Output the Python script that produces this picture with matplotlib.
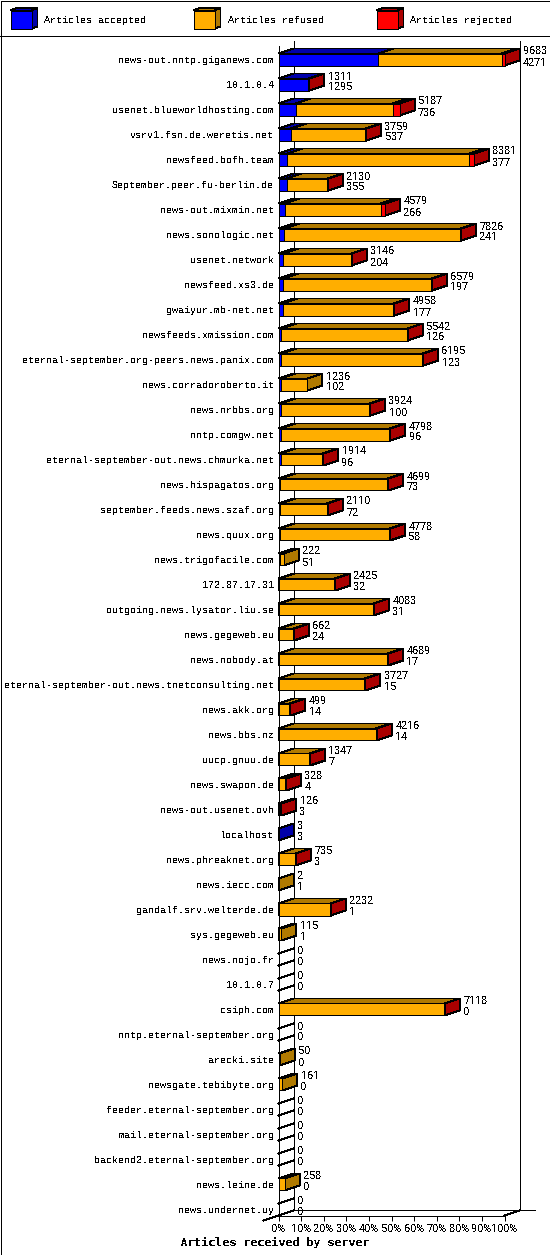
"""Articles received by server: stacked pseudo-3D bars in the style of a gd chart."""

import matplotlib
matplotlib.use("Agg")
import matplotlib.pyplot as plt
from matplotlib.patches import Polygon, Rectangle

W, H = 550, 1255

servers = [
    "news-out.nntp.giganews.com", "10.1.0.4", "usenet.blueworldhosting.com",
    "vsrv1.fsn.de.weretis.net", "newsfeed.bofh.team", "September.peer.fu-berlin.de",
    "news-out.mixmin.net", "news.sonologic.net", "usenet.network", "newsfeed.xs3.de",
    "gwaiyur.mb-net.net", "newsfeeds.xmission.com", "eternal-september.org-peers.news.panix.com",
    "news.corradoroberto.it", "news.nrbbs.org", "nntp.comgw.net",
    "eternal-september-out.news.chmurka.net", "news.hispagatos.org", "september.feeds.news.szaf.org",
    "news.quux.org", "news.trigofacile.com", "172.87.17.31", "outgoing.news.lysator.liu.se",
    "news.gegeweb.eu", "news.nobody.at", "eternal-september-out.news.tnetconsulting.net",
    "news.akk.org", "news.bbs.nz", "uucp.gnuu.de", "news.swapon.de", "news-out.usenet.ovh",
    "localhost", "news.phreaknet.org", "news.iecc.com", "gandalf.srv.welterde.de",
    "sys.gegeweb.eu", "news.nojo.fr", "10.1.0.7", "csiph.com", "nntp.eternal-september.org",
    "arecki.site", "newsgate.tebibyte.org", "feeder.eternal-september.org",
    "mail.eternal-september.org", "backend2.eternal-september.org", "news.leine.de",
    "news.undernet.uy",
]
totals = [
    9683, 1311, 5187, 3759, 8381, 2130, 4579, 7826, 3146, 6579, 4958, 5542, 6195, 1236, 3924, 4798,
    1914, 4699, 2110, 4778, 222, 2425, 4083, 662, 4689, 3727, 499, 4216, 1347, 328, 126, 3, 735, 2,
    2232, 115, 0, 0, 7118, 0, 50, 161, 0, 0, 0, 258, 0,
]
accepted = [
    4271, 1295, 736, 537, 377, 355, 266, 241, 204, 197, 177, 126, 123, 102, 100, 96,
    96, 73, 72, 58, 51, 32, 31, 24, 17, 15, 14, 14, 7, 4, 3, 3, 3, 1,
    1, 1, 0, 0, 0, 0, 0, 0, 0, 0, 0, 0, 0,
]
# rejected is estimated from the width of the red front / colour of the side face
rejected = [
    107, 6, 300, 15, 215, 20, 190, 45, 15, 40, 15, 15, 20, 0, 12, 20,
    20, 25, 35, 15, 0, 8, 20, 8, 30, 20, 15, 50, 12, 8, 33, 0, 10, 0,
    8, 0, 0, 0, 10, 0, 0, 0, 0, 0, 0, 0, 0,
]
refused = [t - a - r for t, a, r in zip(totals, accepted, rejected)]

legend_names = ["Articles accepted", "Articles refused", "Articles rejected"]
pct_ticks = [0, 10, 20, 30, 40, 50, 60, 70, 80, 90, 100]

FRONT = ["#0000ff", "#ffae00", "#ff0000"]
DARK = ["#0000aa", "#b07a00", "#aa0000"]
MONO = "Liberation Mono"
DIGITS = "Roboto"   # tabular digits, same 6 px advance but taller and without a dotted zero

plt.rcParams["font.family"] = MONO
plt.rcParams["text.antialiased"] = False
plt.rcParams["text.hinting"] = "no_autohint"
plt.rcParams["text.hinting_factor"] = 1

LW = 0.72  # 1 px at dpi 100
FS = 7.2   # 10 px
FS_NUM = 7.7

fig = plt.figure(figsize=(W / 100, H / 100), dpi=100, facecolor="white")

# pixel-space layer for frame, legend and the title
page = fig.add_axes([0, 0, 1, 1], zorder=0)
page.set_xlim(0, W)
page.set_ylim(H, 0)
page.axis("off")

# chart axes = front plane: x in articles, y in row numbers (25 px a row, row 0 at y=59.5)
n = len(servers)
xmax = max(totals)
x0_px, x1_px = 278.5, 504.5
top_px, floor_px = 45.5, 1215.5
row0_px, row_px = 59.5, 25.0
ax = fig.add_axes([x0_px / W, 1 - floor_px / H, (x1_px - x0_px) / W, (floor_px - top_px) / H],
                  zorder=1)
ax.patch.set_alpha(0)
ax.set_xlim(0, xmax)
ax.set_ylim((floor_px - row0_px) / row_px, (top_px - row0_px) / row_px)
for name in ["top", "right"]:
    ax.spines[name].set_visible(False)
for name in ["left", "bottom"]:
    ax.spines[name].set_linewidth(LW)

DX = 15 / (x1_px - x0_px) * xmax   # depth of the box in data units
DY = 5 / row_px
HALF = 6 / row_px


def solid(points, color):
    ax.add_patch(Polygon(points, closed=True, facecolor=color, edgecolor="black", lw=LW,
                         antialiased=False, clip_on=False))


# back wall and floor
wall_top = ax.get_ylim()[1]
wall_bot = ax.get_ylim()[0]
line = dict(color="black", lw=LW, clip_on=False, antialiased=False, solid_capstyle="projecting")
ax.plot([DX, DX], [wall_bot - DY, wall_top - DY], zorder=0.5, **line)
ax.plot([xmax + DX, xmax + DX], [wall_bot - DY, wall_top - DY], zorder=0.5, **line)
ax.plot([DX, xmax + 2 * DX], [wall_bot - DY, wall_bot - DY], zorder=0.5, **line)
ax.plot([-DX, DX], [wall_bot + DY, wall_bot - DY], zorder=0.5, **line)
ax.plot([xmax, xmax + DX], [wall_bot, wall_bot - DY], zorder=0.5, **line)

for row in range(n):
    if totals[row] == 0:
        ax.plot([0, DX], [row - HALF, row - HALF - DY], **line)
        ax.plot([0, DX], [row + HALF, row + HALF - DY], **line)
    left = 0
    for k, vals in enumerate([accepted, refused, rejected]):
        v = vals[row]
        if v <= 0:
            continue
        right = left + v
        t, b = row - HALF, row + HALF
        solid([(left, t), (left + DX, t - DY), (right + DX, t - DY), (right, t)], DARK[k])
        solid([(right, t), (right + DX, t - DY), (right + DX, b - DY), (right, b)], DARK[k])
        ax.add_patch(Rectangle((left, t), v, b - t, facecolor=FRONT[k], edgecolor="black",
                               lw=LW, antialiased=False, clip_on=False))
        left = right
    ax.annotate(str(totals[row]), (totals[row] + DX, row), xytext=(3.5 * 0.72, 8.5 * 0.72),
                textcoords="offset points", fontsize=FS_NUM, family=DIGITS, ha="left", va="center",
                annotation_clip=False)
    ax.annotate(str(accepted[row]), (totals[row] + DX, row), xytext=(3.5 * 0.72, -2.5 * 0.72),
                textcoords="offset points", fontsize=FS_NUM, family=DIGITS, ha="left", va="center",
                annotation_clip=False)

ax.set_yticks(range(n))
ax.set_yticklabels(servers, fontsize=FS)
ax.tick_params(axis="y", length=0, pad=3.2)
ax.set_xticks([p / 100 * xmax for p in pct_ticks])
ax.set_xticklabels([f"{p}%" for p in pct_ticks], fontsize=FS_NUM, family=DIGITS)
ax.tick_params(axis="x", length=3.6, width=LW, pad=2.0)

# frame and legend band
page.add_patch(Rectangle((0.5, 0.5), W - 1, H - 1, fill=False, edgecolor="black", lw=LW,
                         antialiased=False))
page.plot([0, W], [35.5, 35.5], color="black", lw=LW, antialiased=False)

for x, name, face, dark in zip([10.5, 193.5, 376.5], legend_names, FRONT, DARK):
    page.add_patch(Polygon([(x, 10.5), (x + 6, 8), (x + 27, 8), (x + 21, 10.5)], facecolor=dark,
                           edgecolor="black", lw=LW, antialiased=False))
    page.add_patch(Polygon([(x + 21, 10.5), (x + 27, 8), (x + 27, 26.5), (x + 21, 28.5)],
                           facecolor=dark, edgecolor="black", lw=LW, antialiased=False))
    page.add_patch(Rectangle((x, 10.5), 21, 18, facecolor=face, edgecolor="black", lw=LW,
                             antialiased=False))
    page.text(x + 34, 20, name, fontsize=FS, ha="left", va="center")

page.text(274, 1242, "Articles received by server", fontsize=8.0, family="DejaVu Sans Mono",
          fontweight="bold", ha="center", va="center")

fig.savefig("out.png", dpi=100)
